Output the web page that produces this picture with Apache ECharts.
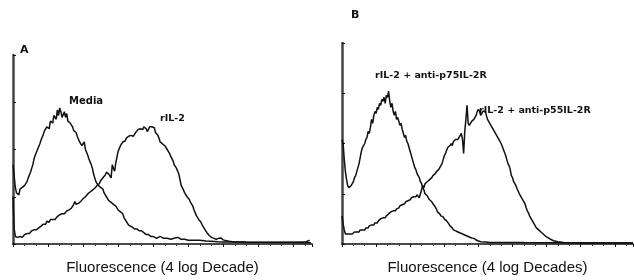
<!DOCTYPE html>
<html>
<head>
<meta charset="utf-8">
<script src="https://cdn.jsdelivr.net/npm/echarts@6/dist/echarts.min.js"></script>
<style>
  html, body { margin: 0; padding: 0; background: #fff; }
  #box { width: 634px; height: 280px; }
</style>
</head>
<body>
<div id="box"></div>
<script>
// channel (0-256 over 4 log decades) , cell count (% of panel max)
var mediaA = [[0,42],[1,36],[2,30],[3,27],[4,28],[5,26],[6,29],[7,28],[8,30],[9,29],[10,31],[11,30],[12,33],[13,35],[14,34],[15,38],[16,40],[17,42],[18,45],[19,47],[20,46],[21,50],[22,49],[23,53],[24,55],[25,54],[26,58],[27,60],[28,59],[29,62],[30,63],[31,61],[32,65],[33,66],[34,64],[35,68],[36,69],[37,66],[38,71],[39,68],[40,72],[41,70],[42,67],[43,66],[44,70],[45,67],[46,69],[47,65],[48,66],[49,64],[50,63],[51,62],[52,60],[53,61],[54,59],[55,57],[56,58],[57,54],[58,55],[59,52],[60,51],[61,54],[62,50],[63,49],[64,47],[65,45],[66,44],[67,42],[68,40],[69,37],[70,35],[71,33],[72,34],[73,31],[74,31],[75,30],[76,29],[77,29],[78,27],[79,26],[80,25],[81,24],[82,23],[83,23],[84,22],[85,21],[86,21],[87,20],[88,20],[89,19],[90,18],[91,18],[92,17],[93,17],[94,16],[95,14],[96,13],[97,12],[98,11],[99,10],[100,9],[102,9],[104,8],[106,8],[108,7],[110,7],[112,6],[114,5],[116,5],[118,4],[120,4],[123,3],[126,4],[129,3],[132,3],[135,2.5],[138,3],[141,3.5],[144,2.5],[147,2.5],[150,2],[155,2],[160,2],[165,1.6],[170,1.5],[175,1.2],[180,1],[190,1],[200,0.8],[220,0.8],[240,0.8],[255,0.7]];
var ril2A = [[0,25],[1,8],[2,4],[3,3],[4,3.5],[5,3],[6,4],[7,4],[8,3.5],[9,4.5],[10,5],[11,4.5],[12,5.5],[13,6],[14,5.5],[15,6.5],[16,7],[17,6.5],[18,7.5],[19,8],[20,7.5],[21,8.5],[22,8.5],[23,9],[24,9.5],[25,9],[26,10.5],[27,11],[28,10.5],[29,12],[30,12],[31,11.5],[32,13],[33,12.5],[34,13],[35,13.5],[36,13],[37,14],[38,14.5],[39,14],[40,15.5],[41,15],[42,16],[43,16.5],[44,16],[45,17],[46,17.5],[47,17],[48,18],[49,18.5],[50,19],[51,20],[52,21],[53,22.5],[54,21],[55,20.5],[56,21.5],[57,22],[58,22.5],[59,23],[60,24],[61,24.5],[62,25],[63,26],[64,26.5],[65,27],[66,27.5],[67,28],[68,28.5],[69,29],[70,29.5],[71,30],[72,31],[73,31],[74,32],[75,33.5],[76,34],[77,35],[78,35.5],[79,36.5],[80,38],[81,39],[82,37],[83,36],[84,35],[85,42],[86,40],[87,38.5],[88,43],[89,46],[90,49],[91,50],[92,52],[93,52.5],[94,54],[95,55],[96,54.5],[97,56],[98,56],[99,57],[100,56],[101,57.5],[102,58],[103,57],[104,57.5],[105,59],[106,60],[107,60.5],[108,60],[109,61],[110,61.5],[111,60.5],[112,62],[113,62.5],[114,61],[115,59.5],[116,59],[117,62],[118,63],[119,62],[120,61],[121,61.5],[122,59],[123,58],[124,57.5],[125,56],[126,54],[127,53.5],[128,53],[129,52.5],[130,52],[131,51],[132,50],[133,49],[134,48],[135,46.5],[136,46],[137,44],[138,42],[139,41],[140,40],[141,38.5],[142,37],[143,34],[144,31],[145,30],[146,28.5],[147,27],[148,26.5],[149,25],[150,24],[151,23.5],[152,22],[153,21.5],[154,20],[155,18],[156,17],[157,15],[158,14],[159,13],[160,12],[161,11.5],[162,10],[163,9],[164,8],[165,7],[166,6],[167,5],[168,4.5],[170,3.5],[172,3],[174,2.5],[176,3],[178,3.2],[180,2.2],[182,1.8],[185,1.4],[190,1.1],[200,1],[220,0.9],[240,0.9],[250,1],[254,2]];
var p75B = [[0,52],[1,50],[2,42],[3,36],[4,32],[5,29],[6,28],[7,27.5],[8,29],[9,30],[10,31],[11,33],[12,34],[13,36],[14,38],[15,40],[16,43],[17,46],[18,48],[19,49],[20,50],[21,52],[22,53],[23,56],[24,55],[25,58],[26,62],[27,60],[28,64],[29,66],[30,65],[31,68],[32,67],[33,70],[34,69],[35,72],[36,71],[37,73],[38,70],[39,74],[40,73],[41,76],[42,71],[43,68],[44,70],[45,66],[46,64],[47,66],[48,62],[49,63],[50,61],[51,59],[52,60],[53,57],[54,55],[55,53],[56,54],[57,51],[58,50],[59,48],[60,46],[61,44],[62,42],[63,40],[64,38],[65,37],[66,35],[67,34],[68,33],[69,31],[70,30],[71,28],[72,27],[73,25],[74,25],[75,24],[76,23],[77,22],[78,21.5],[79,21],[80,20],[81,19.5],[82,18.5],[83,17.5],[84,16],[85,15.5],[86,15],[87,14],[88,14],[89,13.5],[90,12.5],[91,12],[92,11.5],[93,11],[94,10],[95,9],[96,8.5],[97,8],[98,7],[99,6.5],[100,6.5],[102,6],[104,5.5],[106,5],[108,4.5],[110,4],[112,3.5],[114,3],[116,2.8],[118,2],[120,1.5],[122,1.1],[126,1],[130,0.8],[140,0.8],[160,0.7],[200,0.6],[256,0.5]];
var p55B = [[0,14],[1,10],[2,7],[3,5],[4,4.5],[5,5],[6,4.5],[7,5],[8,5.5],[9,5],[10,5.5],[11,6],[12,5.5],[13,6],[14,6.5],[15,6],[16,7],[17,6.5],[18,7],[19,7.5],[20,7],[21,8],[22,8.5],[23,8],[24,9],[25,9],[26,9.5],[27,10],[28,9.5],[29,10.5],[30,11],[31,10.5],[32,11.5],[33,12],[34,12.5],[35,12],[36,13],[37,13.5],[38,13],[39,14],[40,14.5],[41,15],[42,15],[43,16],[44,15.5],[45,16.5],[46,17],[47,16.5],[48,17.5],[49,18],[50,18],[51,19],[52,18.5],[53,19.5],[54,20],[55,20],[56,21],[57,20.5],[58,21.5],[59,22],[60,22],[61,23],[62,22.5],[63,23.5],[64,24],[65,23.5],[66,24.5],[67,25],[68,23],[69,25],[70,27],[71,29],[72,28],[73,30],[74,29.5],[75,31],[76,30.5],[77,32],[78,31.5],[79,33],[80,34],[81,34],[82,35],[83,36],[84,35.5],[85,37],[86,38],[87,39],[88,40],[89,42],[90,44],[91,45],[92,46.5],[93,48],[94,47.5],[95,49],[96,50],[97,49],[98,51],[99,51],[100,52],[101,51.5],[102,52],[103,53],[104,54],[105,55],[106,52],[107,45],[108,56],[109,62],[110,69],[111,60],[112,59],[113,60],[114,61],[115,61.5],[116,62],[117,63],[118,64],[119,66],[120,67],[121,66],[122,64],[123,65],[124,66],[125,65.5],[126,66],[127,64],[128,62],[129,61],[130,60.5],[131,59],[132,59.5],[133,57],[134,56],[135,55],[136,54],[137,53],[138,52],[139,51],[140,50],[141,48.5],[142,47],[143,45.5],[144,44],[145,42],[146,40],[147,39],[148,37],[149,34],[150,33],[151,31],[152,30],[153,29],[154,27.5],[155,27],[156,25],[157,24],[158,23.5],[159,22],[160,21],[161,20],[162,18],[163,16.5],[164,15.5],[165,14],[166,13],[167,12],[168,11],[169,10],[170,9],[171,8],[172,7.5],[173,7],[174,6.5],[175,6],[176,5.5],[178,4.5],[180,3.5],[183,2.5],[186,1.6],[190,1.1],[195,0.8],[210,0.6],[256,0.5]];

var axisTitles = ['Fluorescence (4 log Decade)', 'Fluorescence (4 log Decades)'];
var curveNames = ['Media', 'rIL-2', 'rIL-2 + anti-p75IL-2R', 'rIL-2 + anti-p55IL-2R'];
var panelNames = ['A', 'B'];

var myChart = echarts.init(document.getElementById('box'));

function xAx(i) {
  return {
    type: 'value', gridIndex: i, min: 0, max: 256, interval: 30,
    name: axisTitles[i], nameLocation: 'middle', nameGap: 16,
    nameTextStyle: { color: '#111', fontSize: 15, fontFamily: 'Liberation Sans' },
    axisLine: { lineStyle: { color: '#111', width: 1.5 } },
    axisTick: { length: 3, lineStyle: { color: '#111' } },
    minorTick: { show: true, splitNumber: 3, length: 2, lineStyle: { color: '#333' } },
    axisLabel: { show: false },
    splitLine: { show: false }
  };
}
function yAx(i) {
  return {
    type: 'value', gridIndex: i, min: 0, max: 100, interval: 25,
    axisLine: { show: true, lineStyle: { color: '#444', width: 2.5 } },
    axisTick: { inside: true, length: 3, lineStyle: { color: '#111' } },
    axisLabel: { show: false },
    splitLine: { show: false }
  };
}
function curve(name, data, i) {
  return {
    name: name, type: 'line', xAxisIndex: i, yAxisIndex: i, data: data,
    showSymbol: false, symbol: 'none',
    lineStyle: { color: '#111', width: 1.5 }
  };
}

var lbl = { fill: '#111', font: 'bold 9.5px "DejaVu Sans"' };

option = {
  backgroundColor: '#fff',
  animation: false,
  grid: [
    { left: 13, right: 322, top: 55, bottom: 32 },
    { left: 342, right: 1, top: 43, bottom: 32 }
  ],
  xAxis: [xAx(0), xAx(1)],
  yAxis: [yAx(0), yAx(1)],
  series: [
    curve(curveNames[0], mediaA, 0),
    curve(curveNames[1], ril2A, 0),
    curve(curveNames[2], p75B, 1),
    curve(curveNames[3], p55B, 1)
  ],
  graphic: [
    { type: 'text', left: 20, top: 45, style: { text: panelNames[0], fill: '#111', font: 'bold 11px "DejaVu Sans"' } },
    { type: 'text', left: 351, top: 10, style: { text: panelNames[1], fill: '#111', font: 'bold 11px "DejaVu Sans"' } },
    { type: 'text', left: 69, top: 96, style: Object.assign({ text: curveNames[0] }, lbl, { font: 'bold 10px "DejaVu Sans"' }) },
    { type: 'text', left: 160, top: 114, style: Object.assign({ text: curveNames[1] }, lbl) },
    { type: 'text', left: 375, top: 71, style: Object.assign({ text: curveNames[2] }, lbl) },
    { type: 'text', left: 479, top: 106, style: Object.assign({ text: curveNames[3] }, lbl) }
  ]
};
myChart.setOption(option);
</script>
</body>
</html>
